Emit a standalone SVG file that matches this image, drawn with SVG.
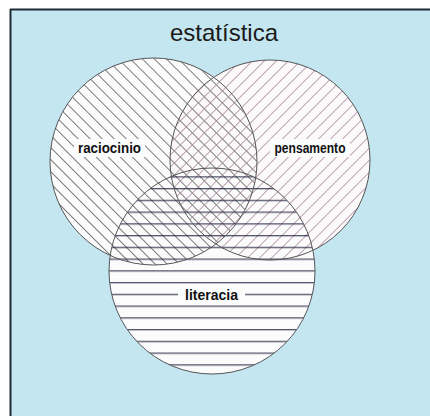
<svg xmlns="http://www.w3.org/2000/svg" width="430" height="416" viewBox="0 0 430 416">
<defs>
<pattern id="hatchL" patternUnits="userSpaceOnUse" width="8.5" height="8.5" patternTransform="rotate(45)">
<line x1="-1" y1="0.5" x2="10" y2="0.5" stroke="#5a5a5a" stroke-width="0.8"/>
</pattern>
<pattern id="hatchR" patternUnits="userSpaceOnUse" width="8.5" height="8.5" patternTransform="rotate(-45)">
<line x1="-1" y1="0.5" x2="10" y2="0.5" stroke="#a88a9c" stroke-width="0.8"/>
</pattern>
<pattern id="hatchH" patternUnits="userSpaceOnUse" width="20" height="11.75">
<line x1="-1" y1="0.75" x2="21" y2="0.75" stroke="#1c1c3c" stroke-width="1"/>
</pattern>
</defs>
<style>
.outline{fill:none;stroke:#555;stroke-width:1}
.lbl{font-family:"Liberation Sans",Arial,sans-serif;font-weight:bold;font-size:14px;fill:#111;text-anchor:middle}
.box{fill:#fbfcfc}
</style>
<rect x="0" y="0" width="430" height="416" fill="#ffffff"/>
<rect x="10" y="9" width="420" height="407" fill="#c4e6f0"/>
<line x1="10.5" y1="9" x2="10.5" y2="416" stroke="#1e2a36" stroke-width="2"/>
<line x1="10" y1="9.5" x2="430" y2="9.5" stroke="#1e2a36" stroke-width="2"/>
<text x="224" y="41" font-family="Liberation Sans, Arial, sans-serif" font-size="24" fill="#1a1a1a" text-anchor="middle">estatística</text>
<g id="fills">
<circle cx="153.5" cy="161.5" r="103.5" fill="#fbfcfb"/>
<circle cx="270" cy="160" r="100" fill="#fcf9fa"/>
<circle cx="212" cy="271" r="103" fill="#fcfcfc"/>
</g>
<g id="raciocinio">
<circle cx="153.5" cy="161.5" r="103.5" fill="url(#hatchL)"/>
</g>
<g id="pensamento">
<circle cx="270" cy="160" r="100" fill="url(#hatchR)"/>
</g>
<g id="literacia">
<circle cx="212" cy="271" r="103" fill="url(#hatchH)"/>
</g>
<g id="outlines">
<circle class="outline" cx="153.5" cy="161.5" r="103.5"/>
<circle class="outline" cx="270" cy="160" r="100"/>
<circle class="outline" cx="212" cy="271" r="103"/>
</g>
<g id="labels">
<rect class="box" x="74" y="139" width="71" height="18"/>
<text class="lbl" x="109.5" y="152.5" textLength="63" lengthAdjust="spacingAndGlyphs">raciocinio</text>
<rect class="box" x="270" y="139" width="80" height="18"/>
<text class="lbl" x="310" y="152.5" textLength="71" lengthAdjust="spacingAndGlyphs">pensamento</text>
<rect class="box" x="178" y="287" width="67" height="15"/>
<text class="lbl" x="211.5" y="299.5" textLength="53" lengthAdjust="spacingAndGlyphs">literacia</text>
</g>
</svg>
